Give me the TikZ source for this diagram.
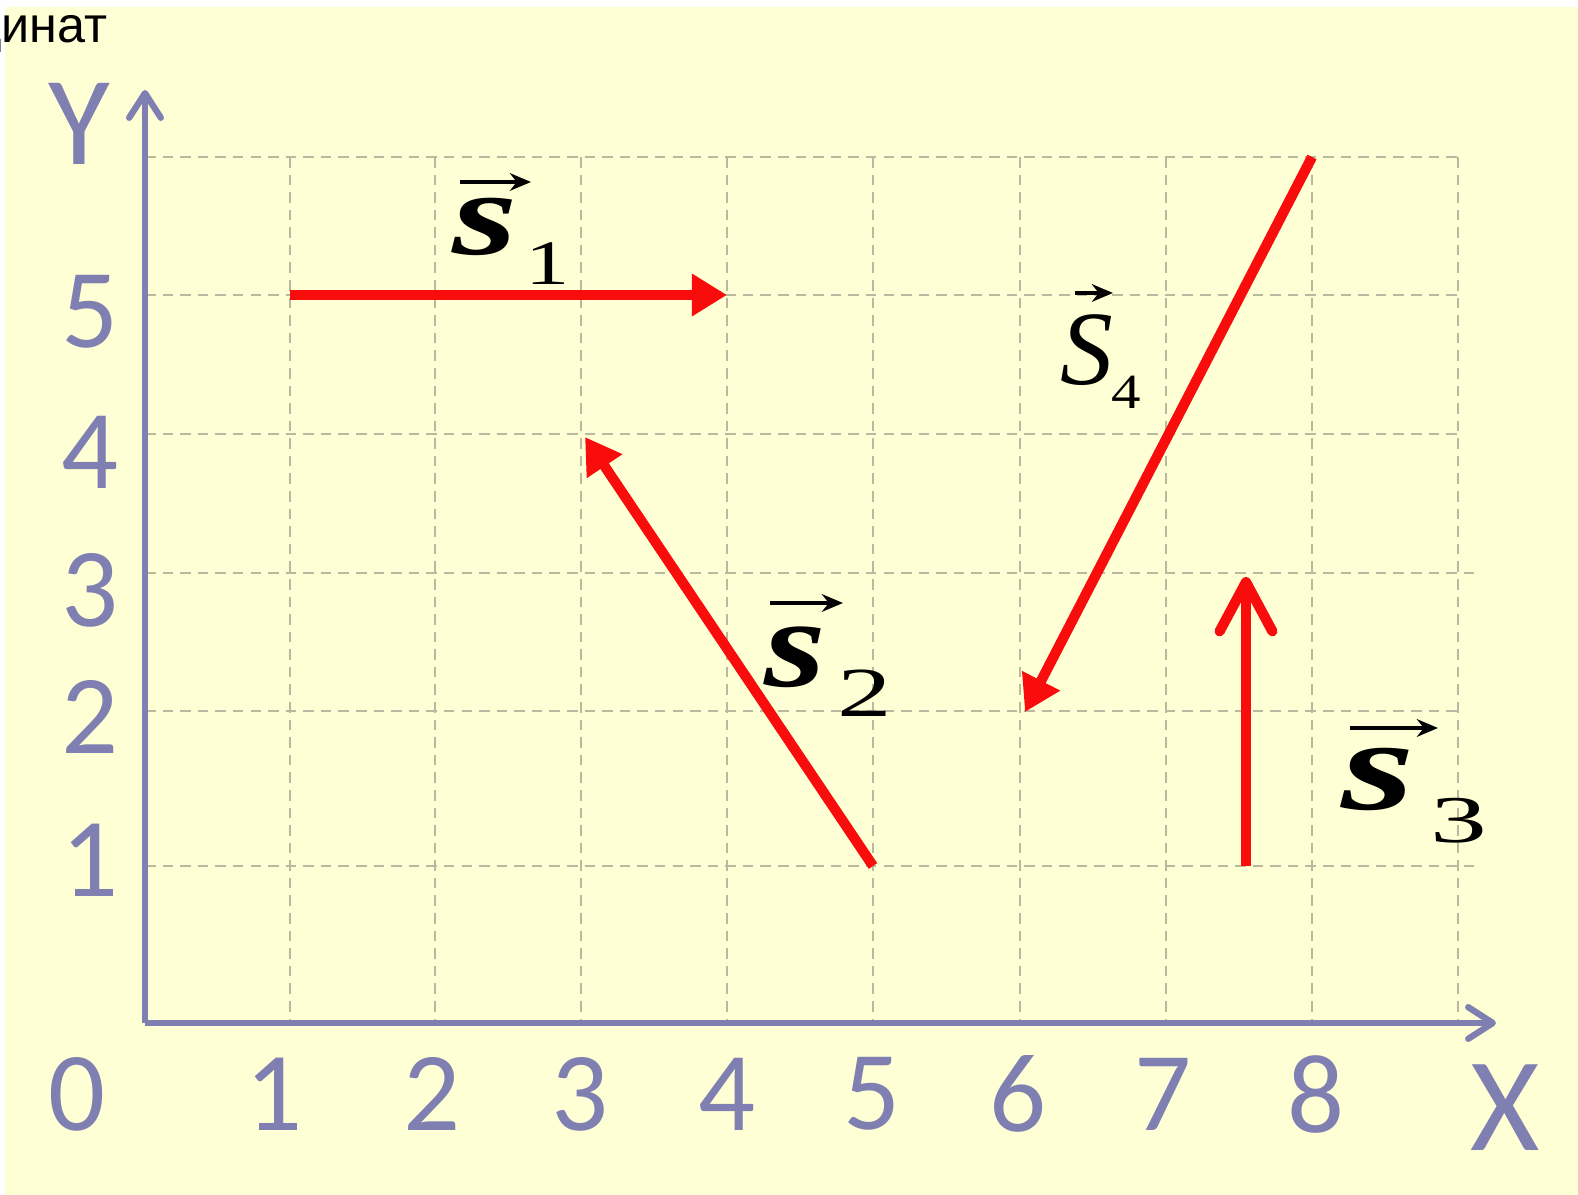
\documentclass[tikz,border=0pt]{standalone}
\usepackage{fontspec}
\setmainfont{Liberation Serif}
\newfontfamily\axfont{Carlito}
\newfontfamily\cyrfont{Liberation Sans}
\usetikzlibrary{arrows.meta}
\definecolor{bgy}{RGB}{255,255,214}
\definecolor{axc}{RGB}{127,127,178}
\definecolor{gridc}{RGB}{185,185,160}
\definecolor{vecred}{RGB}{248,12,12}
\newcommand\wide[2]{\scalebox{#1}[1]{#2}}
\tikzset{
  gridline/.style={gridc, line width=0.6pt, dash pattern=on 3pt off 2pt},
  axis/.style={axc, line width=1.8pt, -{Straight Barb[length=7pt,width=9pt,line cap=round,line join=round]}},
  axlab/.style={font=\axfont\fontsize{32}{32}\selectfont, text=axc, inner sep=0pt},
  bigax/.style={font=\axfont\fontsize{36}{36}\selectfont, text=axc, inner sep=0pt},
  vecline/.style={vecred, line width=2.9pt},
  tri/.style={vecline, -{Triangle[length=10pt,width=11.5pt]}},
  barb/.style={vecline, -{Straight Barb[length=14pt,width=15pt,line cap=round,line join=round]}},
  sym/.style={anchor=base west, inner sep=0pt, font=\bfseries\itshape\fontsize{34}{34}\selectfont},
  symsub/.style={anchor=base west, inner sep=0pt, font=\fontsize{18}{18}\selectfont},
  overarrow/.style={black, line width=1.1pt, -{Stealth[length=6pt,width=5pt]}}
}
\begin{document}
\begin{tikzpicture}[x=0.01cm,y=-0.01cm]
\useasboundingbox (0,0) rectangle (1578,1195);
\fill[white] (0,0) rectangle (1578,1195);
\fill[bgy] (5,7) rectangle (1578,1195);
% title fragment (cut at the left edge, as in the reference)
\node[anchor=base east, inner sep=0pt, font=\cyrfont\fontsize{14.3}{14.3}\selectfont] (title) at (108,43) {динат};
% grid
\foreach \x in {290,435,581,727,873,1020,1166,1312,1458}
  \draw[gridline] (\x,157) -- (\x,1023);
\foreach \y/\e in {157/1458,295/1458,434/1458,573/1480,711/1462,866/1476}
  \draw[gridline] (145,\y) -- (\e,\y);
% axes
\coordinate (O) at (145,1023);
\coordinate (ytip) at (145,90);
\coordinate (xtip) at (1496,1023);
\draw[axis] (O) -- (ytip);
\draw[axis] (O) -- (xtip);
% axis labels
\node[bigax] (Ylab) at (79,124) {Y};
\node[bigax, font=\axfont\fontsize{38}{38}\selectfont] (Xlab) at (1505,1108) {X};
\foreach \t/\y in {5/312,4/452,3/590,2/717,1/860}
  \node[axlab] (yl\t) at (90,\y) {\t};
\foreach \t/\x in {0/77,1/274,2/432,3/580,4/727,5/872,6/1018,7/1163,8/1316}
  \node[axlab] (xl\t) at (\x,1094) {\t};
% vectors
\coordinate (s1a) at (290,295); \coordinate (s1b) at (727,295);
\coordinate (s2a) at (873,866); \coordinate (s2b) at (585,437);
\coordinate (s3a) at (1246,866); \coordinate (s3b) at (1246,577);
\coordinate (s4a) at (1312,157); \coordinate (s4b) at (1025,712);
\draw[tri] (s1a) -- (s1b);
\draw[tri] (s2a) -- (s2b);
\draw[barb] (s3a) -- (s3b);
\draw[tri] (s4a) -- (s4b);
% labels
\node[sym] (l1) at (452,255) {\wide{1.4}{s}};
\node[symsub] (l1s) at (525,285) {\wide{1.4}{1}};
\coordinate (a1a) at (460,182); \coordinate (a1b) at (531,182);
\draw[overarrow] (a1a) -- (a1b);
\node[sym, font=\bfseries\itshape\fontsize{36}{36}\selectfont] (l2) at (764,687) {\wide{1.25}{s}};
\node[symsub, font=\fontsize{20}{20}\selectfont] (l2s) at (837,717) {\wide{1.55}{2}};
\coordinate (a2a) at (770,603); \coordinate (a2b) at (843,603);
\draw[overarrow] (a2a) -- (a2b);
\node[sym, font=\bfseries\itshape\fontsize{37}{37}\selectfont] (l3) at (1341,810) {\wide{1.45}{s}};
\node[symsub, font=\fontsize{19}{19}\selectfont] (l3s) at (1430,843) {\wide{1.7}{3}};
\coordinate (a3a) at (1350,728); \coordinate (a3b) at (1438,728);
\draw[overarrow] (a3a) -- (a3b);
\node[anchor=base west, inner sep=0pt, font=\itshape\fontsize{30}{30}\selectfont] (l4) at (1060,385) {S};
\node[symsub, font=\fontsize{14}{14}\selectfont] (l4s) at (1111,409) {\wide{1.2}{4}};
\coordinate (a4a) at (1075,293); \coordinate (a4b) at (1113,293);
\draw[overarrow] (a4a) -- (a4b);
\end{tikzpicture}
\end{document}
